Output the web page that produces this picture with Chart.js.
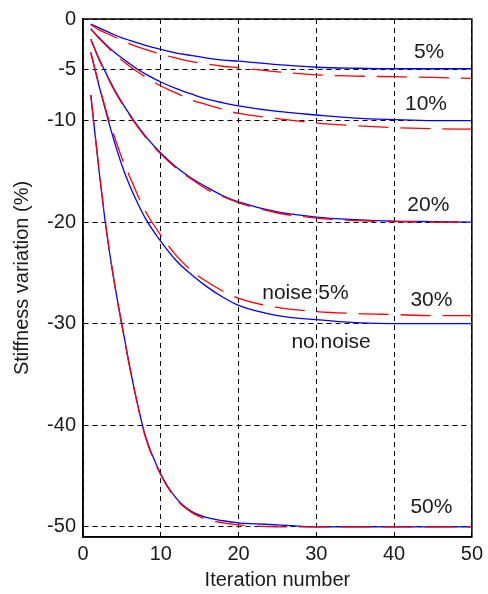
<!DOCTYPE html>
<html>
<head>
<meta charset="utf-8">
<title>Stiffness variation</title>
<style>
    html, body { margin: 0; padding: 0; background: #fff; }
    canvas { display: block; }
</style>
<script src="https://cdn.jsdelivr.net/npm/chart.js@4.4.0/dist/chart.umd.min.js"></script>
</head>
<body>
<canvas id="stiffnessChart" width="488" height="594"></canvas>
<script>
const iterations = [1, 2, 3, 4, 5, 6, 7, 8, 10, 12, 14, 16, 18, 20, 25, 30, 35, 40, 45, 50];

// no noise (blue, solid)
const clean5  = [-0.5, -0.85, -1.2, -1.55, -1.85, -2.1, -2.35, -2.6, -3.0, -3.35, -3.6, -3.85, -4.05, -4.15, -4.5, -4.75, -4.85, -4.9, -4.9, -4.9];
const clean10 = [-0.95, -1.8, -2.55, -3.25, -3.85, -4.4, -4.95, -5.4, -6.2, -6.85, -7.4, -7.9, -8.25, -8.55, -9.1, -9.45, -9.75, -9.9, -10, -10];
const clean20 = [-2.0, -3.8, -5.4, -6.9, -8.2, -9.4, -10.5, -11.5, -13.2, -14.6, -15.7, -16.6, -17.4, -18.0, -19.0, -19.5, -19.75, -19.9, -19.95, -20];
const clean30 = [-3.3, -6.4, -9.3, -12.0, -14.4, -16.4, -18.1, -19.6, -21.9, -23.8, -25.2, -26.4, -27.4, -28.2, -29.2, -29.6, -29.9, -30, -30, -30];
const clean50 = [-7.5, -14.5, -20.8, -25.8, -30.1, -34.2, -37.9, -41.0, -44.8, -47.2, -48.5, -49.1, -49.4, -49.6, -49.8, -50, -50, -50, -50, -50];

// noise 5% (red, dashed)
const noisy5  = [-0.55, -1.05, -1.4, -1.75, -2.1, -2.45, -2.75, -3.0, -3.45, -3.85, -4.2, -4.45, -4.65, -4.8, -5.2, -5.5, -5.62, -5.68, -5.75, -5.85];
const noisy10 = [-1.0, -1.85, -2.65, -3.4, -4.05, -4.65, -5.2, -5.7, -6.6, -7.3, -8.0, -8.45, -8.9, -9.3, -9.8, -10.25, -10.5, -10.7, -10.8, -10.85];
const noisy20 = [-2.0, -3.9, -5.5, -7.0, -8.3, -9.5, -10.6, -11.6, -13.3, -14.7, -15.8, -16.8, -17.5, -18.1, -19.1, -19.6, -19.85, -19.95, -20, -20];
const noisy30 = [-3.3, -6.3, -9.1, -11.5, -13.7, -15.5, -17.3, -18.9, -21.3, -23.3, -24.8, -25.9, -26.8, -27.5, -28.4, -28.8, -29.0, -29.1, -29.2, -29.2];
const noisy50 = [-7.5, -14.4, -20.7, -25.8, -30.2, -34.3, -37.9, -41.1, -44.9, -47.3, -48.6, -49.3, -49.6, -49.8, -50, -50, -50, -50, -50, -50];

const xTicks = [0, 10, 20, 30, 40, 50];
const yTicks = [0, -5, -10, -20, -30, -40, -50];
const curveLabels = ['5%', '10%', '20%', '30%', '50%', 'noise 5%', 'no noise'];

const FONT = "'Liberation Sans', Arial, sans-serif";
Chart.defaults.font.family = FONT;
Chart.defaults.font.size = 20;
Chart.defaults.color = '#1a1a1a';

function toPoints(values) {
    return values.map((v, i) => ({ x: iterations[i], y: v }));
}

function series(values, noisy) {
    return {
        data: toPoints(values),
        borderColor: noisy ? '#ff0000' : '#0000ff',
        borderWidth: 1.3,
        borderDash: noisy ? [30, 12] : [],
        pointRadius: 0,
        fill: false,
        cubicInterpolationMode: 'monotone',
        order: noisy ? 0 : 1
    };
}

// text placed next to the curves, anchored in data units
const labelPlugin = {
    id: 'curveLabels',
    afterDatasetsDraw(chart) {
        const { ctx, scales: { x, y } } = chart;
        const anchors = [[44.5, -3.25], [44.1, -8.35], [44.4, -18.35], [44.8, -27.7], [44.8, -48.1], [28.6, -26.95], [31.9, -31.8]];
        ctx.save();
        ctx.font = '21px ' + FONT;
        ctx.fillStyle = '#1a1a1a';
        ctx.textAlign = 'center';
        ctx.textBaseline = 'middle';
        curveLabels.forEach((text, i) => {
            ctx.fillText(text, x.getPixelForValue(anchors[i][0]), y.getPixelForValue(anchors[i][1]));
        });
        ctx.restore();
    }
};

const boxPlugin = {
    id: 'box',
    afterDraw(chart) {
        const { ctx, chartArea: a } = chart;
        ctx.save();
        ctx.strokeStyle = '#000';
        ctx.lineWidth = 1.5;
        ctx.strokeRect(a.left, a.top, a.right - a.left, a.bottom - a.top);
        ctx.restore();
    }
};

new Chart(document.getElementById('stiffnessChart'), {
    type: 'line',
    data: {
        datasets: [
            series(noisy5, true), series(noisy10, true), series(noisy20, true), series(noisy30, true), series(noisy50, true),
            series(clean5, false), series(clean10, false), series(clean20, false), series(clean30, false), series(clean50, false)
        ]
    },
    options: {
        responsive: false,
        animation: false,
        layout: { padding: { top: 15, right: 10, left: 0, bottom: 0 } },
        plugins: { legend: { display: false }, tooltip: { enabled: false } },
        scales: {
            x: {
                type: 'linear',
                min: 0,
                max: 50,
                afterBuildTicks: scale => { scale.ticks = xTicks.map(v => ({ value: v })); },
                afterFit: scale => { scale.height = 57; },
                ticks: { padding: 5, maxRotation: 0 },
                grid: { color: '#000', lineWidth: 1, drawTicks: false },
                border: { display: true, color: '#000', width: 1.5, dash: [5, 4] },
                title: { display: true, text: 'Iteration number', padding: { top: 0, bottom: 2 } }
            },
            y: {
                type: 'linear',
                min: -51,
                max: 0,
                afterBuildTicks: scale => { scale.ticks = yTicks.map(v => ({ value: v })); },
                afterFit: scale => { scale.width = 83; },
                ticks: { padding: 7 },
                grid: { color: '#000', lineWidth: 1, drawTicks: false },
                border: { display: true, color: '#000', width: 1.5, dash: [5, 4] },
                title: { display: true, text: 'Stiffness variation (%)', padding: { top: 10, bottom: 0 } }
            }
        }
    },
    plugins: [labelPlugin, boxPlugin]
});
</script>
</body>
</html>
